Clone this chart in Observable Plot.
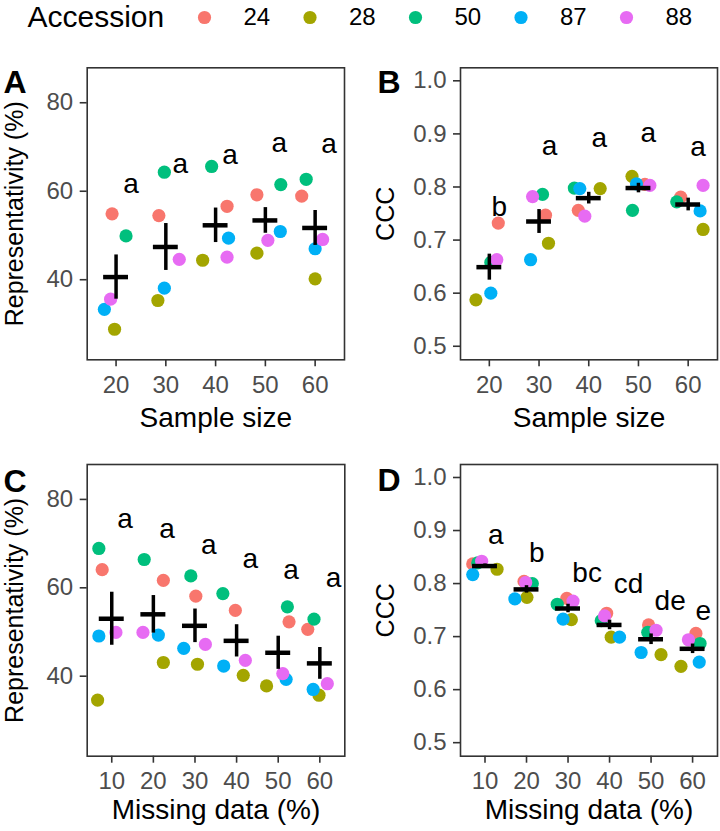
<!DOCTYPE html>
<html>
<head>
<meta charset="utf-8">
<script src="https://cdn.jsdelivr.net/npm/d3@7"></script>
<script src="https://cdn.jsdelivr.net/npm/@observablehq/plot@0.6"></script>
<style>
  html, body { margin: 0; padding: 0; background: #ffffff; }
  #wrap { position: relative; width: 720px; height: 831px; overflow: hidden; background: #ffffff; }
  #wrap svg { position: absolute; }
</style>
</head>
<body>
<div id="wrap"></div>
<script>
const FONT = "'Liberation Sans', Arial, Helvetica, sans-serif";

// ---------- shared ----------
const accessions = ["24", "28", "50", "87", "88"];
const accessionColors = ["#F8766D", "#A3A500", "#00BF7D", "#00B0F6", "#E76BF3"];

// ---------- Panel A : Representativity (%) vs Sample size ----------
const sampleSizes = [20, 30, 40, 50, 60];
// [accession, jittered x, value]
const A_points = [
  ["24", 19.2, 54.9], ["28", 19.7, 28.8], ["50", 22.0, 49.9], ["87", 17.65, 33.3], ["88", 18.9, 35.6],
  ["24", 28.6, 54.5], ["28", 28.4, 35.3], ["50", 29.7, 64.3], ["87", 29.7, 38.1], ["88", 32.7, 44.6],
  ["24", 42.3, 56.6], ["28", 37.4, 44.4], ["50", 39.2, 65.6], ["87", 42.6, 49.4], ["88", 42.3, 45.1],
  ["24", 48.3, 59.2], ["28", 48.3, 46.0], ["50", 53.1, 61.5], ["87", 53.0, 50.9], ["88", 50.5, 48.9],
  ["24", 57.3, 58.9], ["28", 60.0, 40.2], ["50", 58.2, 62.7], ["87", 60.0, 47.0], ["88", 61.5, 49.1]
];
const A_mean = [40.6, 47.4, 52.3, 53.4, 51.7];
const A_se = [5.0, 5.3, 3.9, 2.9, 3.95];
const A_letters = ["a", "a", "a", "a", "a"];
const A_letterX = [23.0, 32.9, 42.9, 52.8, 62.8];
const A_letterY = [61.7, 66.1, 68.2, 70.9, 70.7];

// ---------- Panel B : CCC vs Sample size ----------
const B_points = [
  ["24", 21.8, 0.732], ["28", 17.3, 0.5875], ["50", 20.3, 0.658], ["87", 20.3, 0.600], ["88", 21.5, 0.663],
  ["24", 31.3, 0.747], ["28", 31.9, 0.694], ["50", 30.7, 0.786], ["87", 28.3, 0.663], ["88", 28.7, 0.782],
  ["24", 37.9, 0.756], ["28", 42.3, 0.797], ["50", 37.1, 0.798], ["87", 38.2, 0.797], ["88", 39.2, 0.745],
  ["24", 51.3, 0.805], ["28", 48.7, 0.820], ["50", 48.8, 0.756], ["87", 49.6, 0.806], ["88", 52.3, 0.803],
  ["24", 58.5, 0.781], ["28", 63.0, 0.720], ["50", 57.7, 0.772], ["87", 62.4, 0.755], ["88", 63.0, 0.803]
];
const B_mean = [0.649, 0.735, 0.779, 0.798, 0.767];
const B_se = [0.0245, 0.0225, 0.011, 0.009, 0.012];
const B_letters = ["b", "a", "a", "a", "a"];
const B_letterX = [22.0, 32.1, 42.1, 52.0, 62.0];
const B_letterY = [0.762, 0.877, 0.893, 0.902, 0.875];

// ---------- Panel C : Representativity (%) vs Missing data (%) ----------
const missingData = [10, 20, 30, 40, 50, 60];
const C_points = [
  ["24", 7.7, 64.1], ["28", 6.6, 34.6], ["50", 6.9, 68.9], ["87", 6.9, 49.1], ["88", 11.0, 49.9],
  ["24", 22.4, 61.7], ["28", 22.4, 43.1], ["50", 17.8, 66.4], ["87", 21.2, 49.3], ["88", 17.5, 49.9],
  ["24", 30.2, 58.1], ["28", 30.6, 42.7], ["50", 29.0, 62.7], ["87", 27.3, 46.3], ["88", 32.5, 47.2],
  ["24", 39.7, 54.9], ["28", 41.6, 40.2], ["50", 36.7, 58.7], ["87", 36.9, 42.3], ["88", 42.1, 43.6],
  ["24", 52.6, 52.3], ["28", 47.2, 37.8], ["50", 52.2, 55.7], ["87", 51.9, 39.3], ["88", 51.1, 40.6],
  ["24", 57.1, 50.6], ["28", 59.8, 35.7], ["50", 58.6, 52.9], ["87", 58.4, 37.0], ["88", 61.8, 38.3]
];
const C_mean = [53.0, 54.0, 51.4, 48.0, 45.3, 42.9];
const C_se = [6.0, 4.25, 3.8, 3.65, 3.75, 3.6];
const C_letters = ["a", "a", "a", "a", "a", "a"];
const C_letterX = [13.2, 23.3, 33.3, 43.3, 53.1, 63.3];
const C_letterY = [75.6, 73.4, 69.6, 66.6, 64.0, 62.1];

// ---------- Panel D : CCC vs Missing data (%) ----------
const D_points = [
  ["24", 7.05, 0.837], ["28", 12.9, 0.827], ["50", 8.25, 0.839], ["87", 7.05, 0.817], ["88", 9.2, 0.842],
  ["24", 19.4, 0.804], ["28", 20.1, 0.774], ["50", 21.4, 0.800], ["87", 17.2, 0.771], ["88", 19.8, 0.802],
  ["24", 29.7, 0.772], ["28", 30.8, 0.732], ["50", 27.4, 0.761], ["87", 28.8, 0.733], ["88", 31.2, 0.767],
  ["24", 39.3, 0.744], ["28", 40.4, 0.699], ["50", 38.0, 0.730], ["87", 42.4, 0.699], ["88", 38.8, 0.739],
  ["24", 49.4, 0.722], ["28", 52.4, 0.666], ["50", 49.2, 0.708], ["87", 47.6, 0.670], ["88", 51.2, 0.712],
  ["24", 60.8, 0.706], ["28", 57.2, 0.644], ["50", 61.8, 0.687], ["87", 61.6, 0.652], ["88", 59.0, 0.694]
];
const D_mean = [0.833, 0.789, 0.753, 0.722, 0.695, 0.677];
const D_se = [0.004, 0.007, 0.008, 0.009, 0.010, 0.009];
const D_letters = ["a", "b", "bc", "cd", "de", "e"];
const D_letterX = [12.6, 22.5, 34.6, 44.6, 54.6, 62.6];
const D_letterY = [0.892, 0.858, 0.820, 0.799, 0.767, 0.749];

// ---------- tick labels ----------
const reprTicks = [40, 60, 80];
const cccTicks = [0.5, 0.6, 0.7, 0.8, 0.9, 1.0];

const wrap = document.getElementById("wrap");

function makePanel(cfg) {
  const pts = cfg.points
    .map(([acc, x, y]) => ({acc, x, y}))
    .sort((a, b) => accessions.indexOf(a.acc) - accessions.indexOf(b.acc));
  const summary = cfg.groups.map((g, i) => ({g, m: cfg.mean[i], se: cfg.se[i]}));
  const lett = cfg.groups.map((g, i) => ({t: cfg.letters[i], x: cfg.letterX[i], y: cfg.letterY[i]}));
  const svg = Plot.plot({
    width: 360,
    height: cfg.height,
    marginLeft: cfg.ml, marginRight: cfg.mr, marginTop: cfg.mt, marginBottom: cfg.mb,
    style: {fontFamily: FONT, background: "transparent", overflow: "visible"},
    x: {domain: cfg.xDomain},
    y: {domain: cfg.yDomain},
    color: {domain: accessions, range: accessionColors},
    marks: [
      Plot.axisX({ticks: cfg.xTicks, tickSize: 7, tickPadding: 9, fontSize: 24, fill: "#4D4D4D",
                  stroke: "#333333", strokeWidth: 1.6, label: null, fontFamily: FONT}),
      Plot.axisY({ticks: cfg.yTicks, tickFormat: cfg.yFormat, tickSize: 7, tickPadding: 7, fontSize: 24,
                  fill: "#4D4D4D", stroke: "#333333", strokeWidth: 1.6, label: null, fontFamily: FONT}),
      Plot.dot(pts, {x: "x", y: "y", fill: "acc", r: 6.6}),
      Plot.ruleX(summary, {x: "g", y1: d => d.m - d.se, y2: d => d.m + d.se, stroke: "black", strokeWidth: 3.5}),
      Plot.ruleY(summary, {y: "m", x1: d => d.g - cfg.hw, x2: d => d.g + cfg.hw, stroke: "black", strokeWidth: 4.5}),
      Plot.text(lett, {x: "x", y: "y", text: "t", fontSize: 28, fill: "black", lineAnchor: "middle", fontFamily: FONT}),
      Plot.frame({stroke: "#333333", strokeWidth: 1.6}),
      Plot.text([cfg.xLabel], {text: d => d, frameAnchor: "bottom", dy: cfg.xLabelDy, textAnchor: "middle",
                               lineAnchor: "bottom", fontSize: 28, fill: "black", fontFamily: FONT}),
      Plot.text([cfg.yLabel], {text: d => d, frameAnchor: "left", dx: cfg.yLabelDx, rotate: -90, textAnchor: "middle",
                               lineAnchor: "bottom", fontSize: 25, fill: "black", fontFamily: FONT}),
      Plot.text([cfg.tag], {text: d => d, frameAnchor: "top-left", dx: cfg.tagDx, dy: cfg.tagDy, textAnchor: "start",
                            lineAnchor: "top", fontSize: 32, fontWeight: "bold", fill: "black", fontFamily: FONT})
    ]
  });
  svg.style.left = cfg.left + "px";
  svg.style.top = cfg.top + "px";
  wrap.appendChild(svg);
}

const fmt1 = d3.format(".1f");
const topRow = {top: 38, height: 412, mt: 29.3, mb: 90.7};
const botRow = {top: 450, height: 381, mt: 14, mb: 75.3};

makePanel({...topRow, left: 0, ml: 86.7, mr: 16,
  points: A_points, groups: sampleSizes, mean: A_mean, se: A_se,
  letters: A_letters, letterX: A_letterX, letterY: A_letterY,
  xDomain: [14.2, 65.9], yDomain: [21.9, 87.9], xTicks: sampleSizes, yTicks: reprTicks, yFormat: d => d,
  hw: 2.5, xLabel: "Sample size", yLabel: "Representativity (%)", tag: "A",
  xLabelDy: 66.7, yLabelDx: -63.7, tagDx: -83.7, tagDy: 2.7});

makePanel({...topRow, left: 360, ml: 100, mr: 3,
  points: B_points, groups: sampleSizes, mean: B_mean, se: B_se,
  letters: B_letters, letterX: B_letterX, letterY: B_letterY,
  xDomain: [14.2, 65.9], yDomain: [0.4745, 1.0245], xTicks: sampleSizes, yTicks: cccTicks, yFormat: fmt1,
  hw: 2.5, xLabel: "Sample size", yLabel: "CCC", tag: "B",
  xLabelDy: 66.7, yLabelDx: -67, tagDx: -83, tagDy: 2.7});

makePanel({...botRow, left: 0, ml: 86.7, mr: 15.7,
  points: C_points, groups: missingData, mean: C_mean, se: C_se,
  letters: C_letters, letterX: C_letterX, letterY: C_letterY,
  xDomain: [4.1, 66.0], yDomain: [21.9, 87.9], xTicks: missingData, yTicks: reprTicks, yFormat: d => d,
  hw: 3.0, xLabel: "Missing data (%)", yLabel: "Representativity (%)", tag: "C",
  xLabelDy: 62.6, yLabelDx: -63.7, tagDx: -83.7, tagDy: 5});

makePanel({...botRow, left: 360, ml: 100, mr: 3,
  points: D_points, groups: missingData, mean: D_mean, se: D_se,
  letters: D_letters, letterX: D_letterX, letterY: D_letterY,
  xDomain: [4.1, 66.0], yDomain: [0.4745, 1.0245], xTicks: missingData, yTicks: cccTicks, yFormat: fmt1,
  hw: 3.0, xLabel: "Missing data (%)", yLabel: "CCC", tag: "D",
  xLabelDy: 62.6, yLabelDx: -67, tagDx: -83, tagDy: 4});

// ---------- legend ----------
const legendIndex = accessions.map((d, i) => i);
const legend = Plot.plot({
  width: 720, height: 30, margin: 0,
  style: {fontFamily: FONT, background: "transparent", overflow: "visible"},
  x: {type: "linear", domain: [0, accessions.length - 1], range: [204, 626], axis: null},
  color: {domain: accessions, range: accessionColors},
  marks: [
    Plot.text(["Accession"], {text: d => d, frameAnchor: "left", dx: 27, textAnchor: "start", lineAnchor: "middle",
                              fontSize: 30, fill: "black", fontFamily: FONT}),
    Plot.dot(legendIndex, {x: i => i, fill: i => accessions[i], r: 6.6}),
    Plot.text(legendIndex, {x: i => i, text: i => accessions[i], dx: 39, textAnchor: "start", lineAnchor: "middle",
                            fontSize: 24, fill: "black", fontFamily: FONT})
  ]
});
legend.style.left = "0px";
legend.style.top = "2px";
wrap.appendChild(legend);
</script>
</body>
</html>
